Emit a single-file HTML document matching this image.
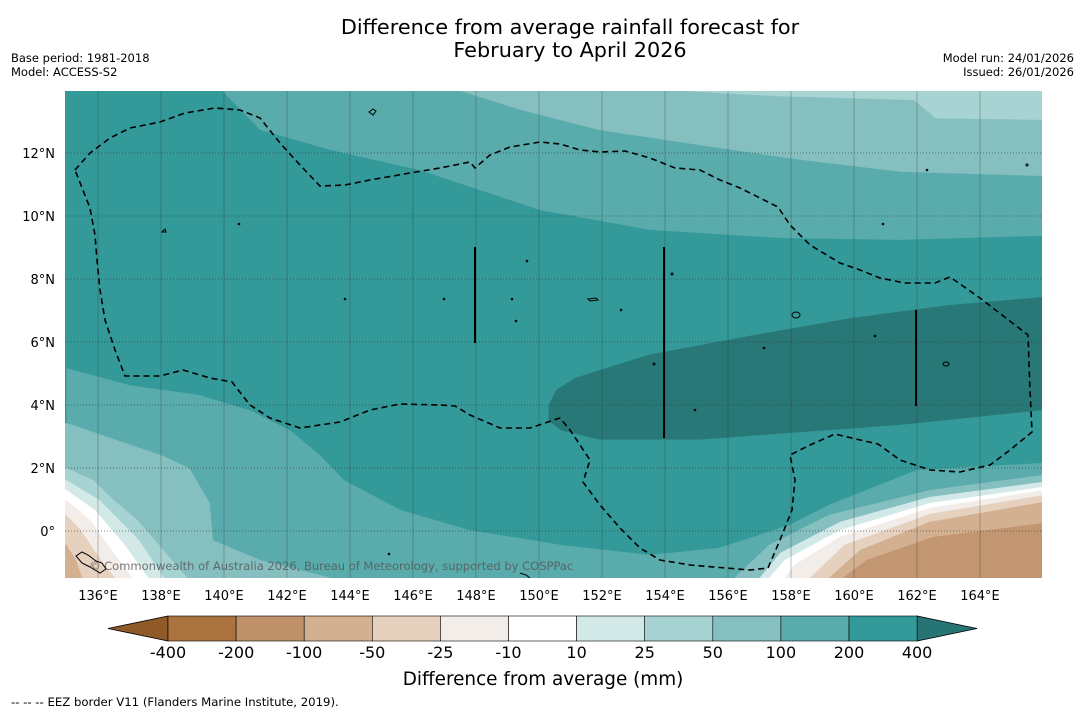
<!DOCTYPE html>
<html><head><meta charset="utf-8">
<style>
html,body{margin:0;padding:0;background:#fff;}
body{width:1085px;height:713px;position:relative;overflow:hidden;font-family:"Liberation Sans","DejaVu Sans",sans-serif;}
svg text{font-family:"DejaVu Sans","Liberation Sans",sans-serif;}
</style></head>
<body>
<svg id="chart" width="1085" height="713" viewBox="0 0 1085 713" xmlns="http://www.w3.org/2000/svg">
<text x="570" y="34" font-size="20.8" text-anchor="middle" fill="#000">Difference from average rainfall forecast for</text>
<text x="570" y="57" font-size="20.8" text-anchor="middle" fill="#000">February to April 2026</text>
<text x="11" y="62" font-size="11.5">Base period: 1981-2018</text>
<text x="11" y="76" font-size="11.5">Model: ACCESS-S2</text>
<text x="1074" y="62" font-size="11.5" text-anchor="end">Model run: 24/01/2026</text>
<text x="1074" y="76" font-size="11.5" text-anchor="end">Issued: 26/01/2026</text>
<defs><clipPath id="mapclip"><rect x="65" y="91" width="977" height="487"/></clipPath></defs>
<g id="map" clip-path="url(#mapclip)">
<rect x="65" y="91" width="977" height="487" fill="#339999"/>
<g id="bands"></g>
<g id="grid"></g>
<path fill="none" stroke="#000" stroke-width="1.6" stroke-dasharray="6,4" d="M75,170 L90,153 110,138 130,128 160,122 185,113 215,108 240,110 260,118 280,143 300,165 320,186 345,185 370,180 410,173 440,168 470,162 475,168 490,155 510,147 540,142 560,144 580,150 600,152 625,151 650,158 675,168 700,170 720,180 740,188 760,198 778,207 790,225 810,245 840,263 860,270 880,278 905,283 935,283 950,277 980,298 1028,335 1030,390 1032,432 1010,450 990,465 960,472 930,470 900,460 878,444 860,440 835,434 810,445 790,455 795,480 792,510 780,540 768,568 750,570 690,565 660,560 640,548 620,528 600,505 583,482 590,460 570,430 560,418 530,428 500,428 470,415 455,406 440,405 400,404 370,410 340,422 300,428 270,418 250,405 232,382 210,378 183,370 160,376 125,376 115,350 105,320 100,290 97,260 95,235 90,208 Z"/>
<line x1="475" y1="247" x2="475" y2="343" stroke="#000" stroke-width="2"/>
<line x1="664" y1="247" x2="664" y2="438" stroke="#000" stroke-width="2"/>
<line x1="916" y1="310" x2="916" y2="406" stroke="#000" stroke-width="2"/>
<g fill="none" stroke="#000" stroke-width="1">
<path d="M369,112 l4,-3 l3,2 l-3,4 z"/><path d="M162,232 l3,-3 l1,3 z"/><ellipse cx="796" cy="315" rx="4" ry="3"/><path d="M588,299 l8,-1 l2,2 l-8,1 z"/><ellipse cx="946" cy="364" rx="3" ry="2"/>
<path d="M76,556 l6,-4 l6,3 l8,6 l6,2 l4,6 l-6,4 l-10,-6 l-8,-4 z"/><path d="M520,573 l6,2 l4,3"/>
<circle cx="239" cy="224" r="0.8"/><circle cx="527" cy="261" r="0.8"/><circle cx="672" cy="274" r="1"/><circle cx="512" cy="299" r="0.8"/><circle cx="621" cy="310" r="0.8"/><circle cx="444" cy="299" r="0.8"/><circle cx="345" cy="299" r="0.8"/><circle cx="516" cy="321" r="0.8"/><circle cx="764" cy="348" r="0.8"/><circle cx="654" cy="364" r="1"/><circle cx="695" cy="410" r="0.8"/><circle cx="875" cy="336" r="0.8"/><circle cx="883" cy="224" r="0.8"/><circle cx="927" cy="170" r="0.8"/><circle cx="1027" cy="165" r="1"/><circle cx="389" cy="554" r="0.8"/>
</g>
<text x="89" y="570" font-size="11.5" fill="#555" fill-opacity="0.8">© Commonwealth of Australia 2026, Bureau of Meteorology, supported by COSPPac</text>
</g>
<g id="ticks"></g>
<g id="colorbar"></g>
<text x="543" y="685" font-size="18.4" text-anchor="middle">Difference from average (mm)</text>
<text x="11" y="706" font-size="11.7">--  --  -- EEZ border V11 (Flanders Marine Institute, 2019).</text>
</svg>
<script>
// ---- data ----
const lonTicks = [136,138,140,142,144,146,148,150,152,154,156,158,160,162,164];
const latTicks = [0,2,4,6,8,10,12];
const cbLevels = ["-400","-200","-100","-50","-25","-10","10","25","50","100","200","400"];
const cbColors = ["#ab733f","#bf9169","#d2b090","#e5d1be","#f3ede9","#ffffff","#d3e9e7","#a8d3d3","#85bfbf","#5aabab","#339999"];
const cbUnder = "#8f5a28";
const cbOver = "#277474";
// contour band boundaries [lon,lat]
const topBand100 = [[139.94,13.97],[141.15,12.73],[143.37,12.1],[146.2,11.46],[150.03,10.19],[153.52,9.56],[157.65,9.3],[161.46,9.24],[166,9.37]];
const topBand50 = [[147.5,13.97],[149.4,13.37],[151.9,12.73],[155.1,12.25],[158.3,11.78],[161.5,11.4],[166,11.27]];
const topBand25 = [[154.5,13.97],[157.6,13.8],[161.9,13.68],[162.6,13.1],[166,13.05]];
const core400 = [[150.3,4],[150.55,4.48],[151.15,4.86],[153.5,5.6],[156.7,6.2],[159.9,6.76],[163,7.17],[166,7.43],[166,3.84],[161.5,3.37],[158.3,3.14],[155.1,2.9],[151.9,2.9],[150.7,3.2],[150.3,3.5]];
const south100 = [[135,5.17],[137,4.63],[139.2,4.32],[140.8,3.84],[142.1,3.2],[143.05,2.41],[143.8,1.62],[145.6,0.67],[147.8,0.03],[150.7,-0.44],[153.5,-0.76],[155.7,-0.54],[157.95,0.19],[159.2,0.83],[162,1.94],[166,2.16]];
const swBands = [
 [[135,3.43],[138,2.41],[138.9,2],[139.55,0.89],[139.65,-0.29],[141.15,-0.92],[143.4,-1.49]],
 [[135,2],[135.85,1.62],[136.5,0.98],[137.25,0.35],[138,-0.51],[138.7,-1.33],[138.85,-1.49]],
 [[135,1.62],[136.05,0.98],[137.3,-0.29],[138.1,-1.49]],
 [[135,1.3],[135.9,0.67],[136.85,-0.44],[137.6,-1.49]],
 [[135,0.98],[135.75,0.35],[136.55,-0.76],[137.1,-1.49]],
 [[135,0.5],[135.45,0.03],[136.2,-1.08],[136.55,-1.49]],
 [[135,-0.44],[135.3,-0.92],[135.5,-1.49]]
];
const seBands = [
 [[166,1.78],[162.4,1.3],[159.2,0.51],[157.3,-0.44],[156.2,-1.49]],
 [[166,1.56],[162.4,1.08],[159.55,0.29],[157.65,-0.7],[157,-1.49]],
 [[166,1.4],[162.4,0.89],[159.55,0.03],[157.8,-0.92],[157.3,-1.49]],
 [[166,1.3],[162.4,0.73],[159.55,-0.19],[158.1,-1.08],[157.8,-1.49]],
 [[166,1.14],[162.4,0.54],[159.7,-0.44],[158.6,-1.49]],
 [[166,0.92],[162.4,0.29],[160.2,-0.6],[159.2,-1.49]],
 [[166,0.25],[162.5,-0.19],[160.4,-0.92],[159.65,-1.49]]
];
const swColors = ["#85bfbf","#a8d3d3","#d3e9e7","#ffffff","#f3ede9","#e5d1be","#d2b090"];
const seColors = ["#85bfbf","#d3e9e7","#ffffff","#f3ede9","#e5d1be","#d2b090","#c29670"];
// ---- scales ----
const X0=66.5, PX=31.5, Y0=531;
const xs = lon => X0 + (lon-135)*PX;
const ys = lat => Y0 - lat*PX;
const NS="http://www.w3.org/2000/svg";
function pts(arr){return arr.map(p=>xs(p[0]).toFixed(1)+","+ys(p[1]).toFixed(1)).join(" ");}
const bands=document.getElementById("bands");
function poly(arr,extra,fill,name){
  const el=document.createElementNS(NS,"polygon");
  el.setAttribute("points",pts(arr.concat(extra)));
  el.setAttribute("fill",fill);
  
  
  bands.appendChild(el);
}
poly(topBand100,[[166,15],[135,15]],"#5aabab","band-100-200-north");
poly(topBand50,[[166,15]],"#85bfbf","band-50-100-north");
poly(topBand25,[[166,15]],"#a8d3d3","band-25-50-north");
poly(core400,[],"#287878","band-over-400");
poly(south100,[[166,-2],[135,-2]],"#5aabab","band-100-200-south");
swBands.forEach((b,i)=>poly(b,[[134,-2],[134,b[0][1]]],swColors[i],"band-sw-"+i));
seBands.forEach((b,i)=>poly(b,[[167,-2],[167,b[0][1]]],seColors[i],"band-se-"+i));
// grid
const grid=document.getElementById("grid");
lonTicks.forEach(l=>{
  const ln=document.createElementNS(NS,"line");
  ln.setAttribute("x1",xs(l));ln.setAttribute("x2",xs(l));ln.setAttribute("y1",91);ln.setAttribute("y2",578);
  ln.setAttribute("stroke","#333");ln.setAttribute("stroke-opacity","0.3");ln.setAttribute("stroke-width","1");
  
  
  grid.appendChild(ln);
});
latTicks.forEach(l=>{
  const ln=document.createElementNS(NS,"line");
  ln.setAttribute("x1",65);ln.setAttribute("x2",1042);ln.setAttribute("y1",ys(l));ln.setAttribute("y2",ys(l));
  ln.setAttribute("stroke","#333");ln.setAttribute("stroke-opacity","0.6");ln.setAttribute("stroke-dasharray","1,2");
  
  
  grid.appendChild(ln);
});
// ticks
const ticks=document.getElementById("ticks");
lonTicks.forEach(l=>{
  const t=document.createElementNS(NS,"text");
  t.setAttribute("x",xs(l));t.setAttribute("y",600);t.setAttribute("font-size","13");t.setAttribute("text-anchor","middle");
  t.textContent=l+"°E";
  
  
  ticks.appendChild(t);
});
latTicks.forEach(l=>{
  const t=document.createElementNS(NS,"text");
  t.setAttribute("x",55);t.setAttribute("y",ys(l)+5);t.setAttribute("font-size","13");t.setAttribute("text-anchor","end");
  t.textContent=l===0?"0°":l+"°N";
  
  
  ticks.appendChild(t);
});
// colorbar
const cb=document.getElementById("colorbar");
const CBX=168, CBW=68.1, CBY=616, CBH=25;
const under=document.createElementNS(NS,"polygon");
under.setAttribute("points",`${CBX},${CBY} ${CBX},${CBY+CBH} 108,${CBY+CBH/2}`);
under.setAttribute("fill",cbUnder);under.setAttribute("stroke","#000");under.setAttribute("stroke-width","0.8");


cb.appendChild(under);
const endX=CBX+CBW*cbColors.length;
const over=document.createElementNS(NS,"polygon");
over.setAttribute("points",`${endX},${CBY} ${endX},${CBY+CBH} 977,${CBY+CBH/2}`);
over.setAttribute("fill",cbOver);over.setAttribute("stroke","#000");over.setAttribute("stroke-width","0.8");


cb.appendChild(over);
cbColors.forEach((c,i)=>{
  const r=document.createElementNS(NS,"rect");
  r.setAttribute("x",CBX+i*CBW);r.setAttribute("y",CBY);r.setAttribute("width",CBW);r.setAttribute("height",CBH);
  r.setAttribute("fill",c);r.setAttribute("stroke","#000");r.setAttribute("stroke-width","0.6");
  
  
  cb.appendChild(r);
});
cbLevels.forEach((v,i)=>{
  const t=document.createElementNS(NS,"text");
  t.setAttribute("x",CBX+i*CBW);t.setAttribute("y",658);t.setAttribute("font-size","16");t.setAttribute("text-anchor","middle");
  t.textContent=v;
  
  
  cb.appendChild(t);
});
</script>
</body></html>
